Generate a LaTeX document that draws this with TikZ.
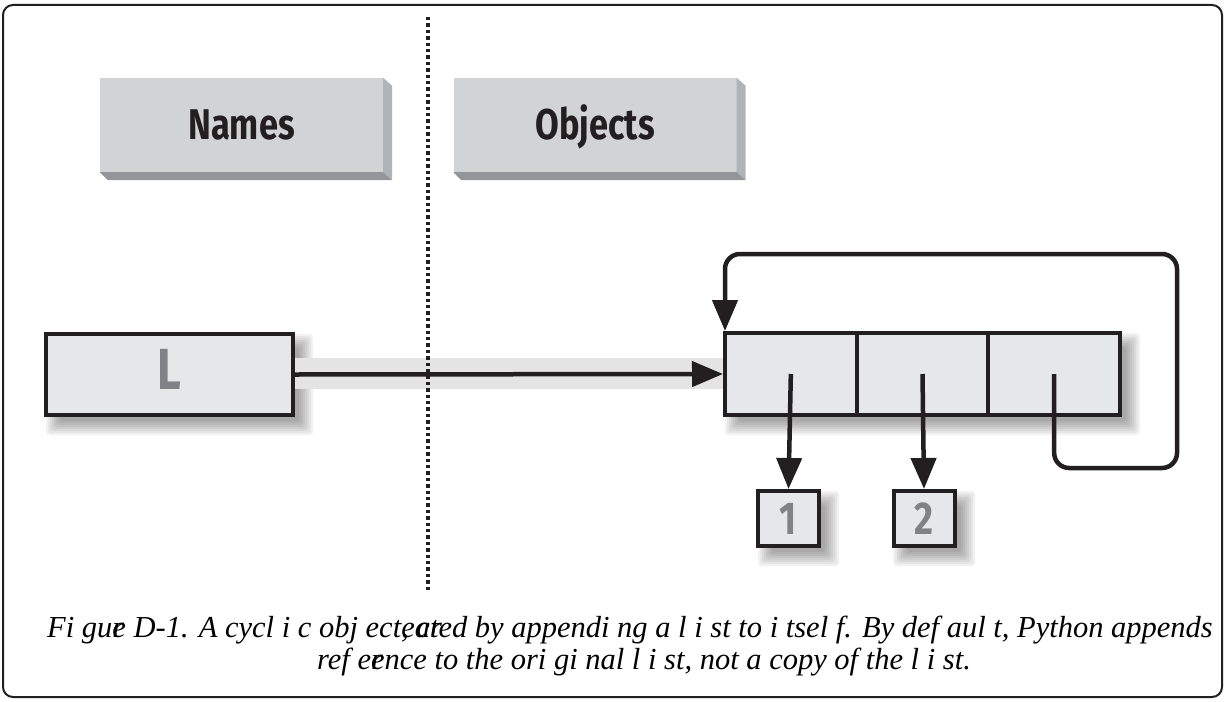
\documentclass[tikz,border=0pt]{standalone}
\usepackage{fontspec}
\setmainfont{Liberation Serif}
\newfontfamily\lblfont[FakeStretch=0.8]{Fira Sans}
\usetikzlibrary{arrows.meta}
\definecolor{facegray}{HTML}{D1D3D4}
\definecolor{sidegray}{HTML}{B1B3B6}
\definecolor{botgray}{HTML}{939598}
\definecolor{boxfill}{HTML}{E6E7E8}
\definecolor{ink}{HTML}{231F20}
\definecolor{txtgray}{HTML}{808285}
\definecolor{bandgray}{HTML}{E4E4E4}
\newcommand\softshadow[4]{%
  \foreach \d in {-6,-4,...,8}{%
    \fill[black,opacity=0.05,rounded corners=3pt] (#1+10-\d,#2+10-\d) rectangle (#3+10+\d,#4+10+\d);}}
\tikzset{
  headbox/.style={fill=facegray,minimum width=283pt,minimum height=94pt,inner sep=0pt,
    font=\lblfont\bfseries\fontsize{43}{43}\selectfont,text=ink,text height=29.6pt,text depth=0pt},
  namebox/.style={draw=ink,line width=4pt,fill=boxfill,inner sep=0pt,text=txtgray},
  cellbox/.style={draw=ink,line width=4pt,fill=boxfill,inner sep=0pt,minimum width=131.67pt,minimum height=82pt},
  valbox/.style={draw=ink,line width=4pt,fill=boxfill,inner sep=0pt,minimum width=61pt,minimum height=55pt,
    text=txtgray,font=\lblfont\bfseries\fontsize{46}{46}\selectfont,text height=31.7pt,text depth=0pt},
  conn/.style={draw=ink,line width=4.5pt,-{Triangle[length=31pt,width=25pt]}},
  caption/.style={font=\itshape\fontsize{30.5}{30.5}\selectfont,inner sep=0pt}
}
\begin{document}
\begin{tikzpicture}[x=1pt,y=-1pt]
\useasboundingbox (0,0) rectangle (1225,701);
% header boxes
\node[headbox] (names) at (241.5,125) {Names};
\fill[sidegray] (names.north east) -- ++(9,8) -- ([shift={(9,8)}]names.south east) -- (names.south east) -- cycle;
\fill[botgray] (names.south west) -- (names.south east) -- ++(9,8) -- ([shift={(8,8)}]names.south west) -- cycle;
\node[headbox] (objects) at (595,125) {Objects};
\fill[sidegray] (objects.north east) -- ++(9,8) -- ([shift={(9,8)}]objects.south east) -- (objects.south east) -- cycle;
\fill[botgray] (objects.south west) -- (objects.south east) -- ++(9,8) -- ([shift={(8,8)}]objects.south west) -- cycle;
% shadows
\softshadow{44}{332}{295}{417}
\softshadow{723}{331}{1122}{417}
\softshadow{756}{489}{821}{548}
\softshadow{891}{489}{957}{548}
% band
\fill[bandgray] (295,358) rectangle (723,389);
% dotted divider
\coordinate (dtop) at (428,17);
\coordinate (dbot) at (428,590);
\draw[ink,line width=3.4pt,dash pattern=on 3.4pt off 3pt] (dtop) -- (dbot);
% name L
\node[namebox,minimum width=247pt,minimum height=81pt,font=\lblfont\bfseries\fontsize{58}{58}\selectfont,text height=40pt,text depth=10pt] (L) at (169.5,374.5) {L};
% list cells
\node[cellbox] (c1) at (790.83,374) {};
\node[cellbox] (c2) at (922.5,374) {};
\node[cellbox] (c3) at (1054.17,374) {};
% values
\node[valbox] (b1) at (788.5,518.5) {1};
\node[valbox] (b2) at (924,518.5) {2};
% connectors
\draw[conn] (L.east) -- (c1.west);
\draw[conn] (c1.center) -- (b1.north);
\draw[conn] (c2.center) -- (b2.north);
\coordinate (lbr) at (1177,468);
\coordinate (ltr) at (1177,254);
\draw[conn,rounded corners=15pt] (c3.center) -- (c3.center |- lbr) -- (lbr) -- (ltr) -- ([xshift=2pt]c1.north west |- ltr) -- ([xshift=2pt]c1.north west);
% caption
\begin{scope}
\clip (0,0) rectangle (1222,701);
\node[caption,anchor=base west] (cap1) at (47,637) {Fi gu\rlap{r}e D-1. A cycl i c obj ect\rlap{, cr}eated by appendi ng a l i st to i tsel f. By def aul t, Python appends a};
\end{scope}
\node[caption,anchor=base] (cap2) at (644,669) {ref e\rlap{r}ence to the ori gi nal l i st, not a copy of the l i st.};
% frame
\draw[ink,line width=2pt,rounded corners=10pt] (3,5) rectangle (1222,697);
\end{tikzpicture}
\end{document}
